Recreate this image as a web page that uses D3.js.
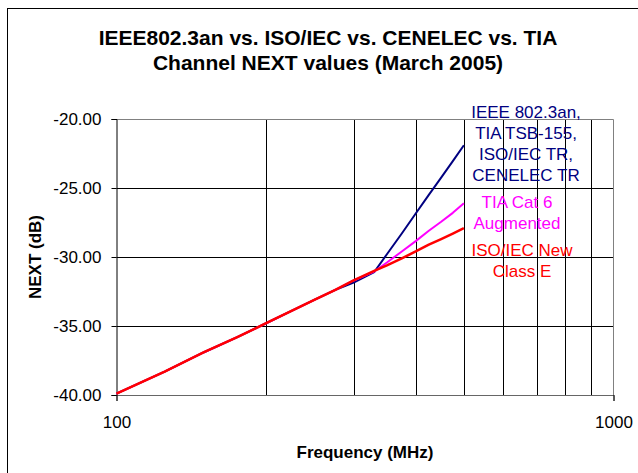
<!DOCTYPE html>
<html lang="en">
<head>
<meta charset="utf-8">
<title>Channel NEXT values</title>
<script src="https://d3js.org/d3.v7.min.js"></script>
<style>
	body {
		margin: 0;
		font-family: 'Liberation Sans', Arial, sans-serif;
		background: white;
	}
	.title {
		font-size: 21px;
		font-weight: bold;
	}
	.axislabel {
		font-size: 17px;
		font-weight: bold;
	}
	.tick text {
		font-family: 'Liberation Sans', Arial, sans-serif;
		font-size: 17px;
		fill: black;
	}
	.serieslabel {
		font-size: 17px;
	}
</style>
</head>
<body>
<div id="my_dataviz"></div>
<script>

// frequencies (MHz) the curves were read at
var freqs = [100, 125, 150, 175, 200, 225, 250, 275, 300, 330, 350, 375, 400, 425, 450, 475, 500];

// IEEE 802.3an / TIA TSB-155 / ISO/IEC TR / CENELEC TR
var ieeeValues = [-39.9, -38.3, -36.9, -35.8, -34.8, -33.9, -33.1, -32.4, -31.85, -31.1, -29.8, -28.3, -26.85, -25.5, -24.25, -23.05, -21.9];
// TIA Cat 6 Augmented
var tiaValues = [-39.9, -38.3, -36.9, -35.8, -34.8, -33.9, -33.1, -32.4, -31.7, -31.05, -30.4, -29.6, -28.85, -28.1, -27.45, -26.8, -26.1];
// ISO/IEC New Class E
var isoValues = [-39.9, -38.3, -36.9, -35.8, -34.8, -33.9, -33.1, -32.4, -31.7, -31.0, -30.6, -30.1, -29.6, -29.1, -28.7, -28.3, -27.9];

var yTicks = [-40, -35, -30, -25, -20];
var xGrid = [200, 300, 400, 500, 600, 700, 800, 900];
var xTicks = [100, 1000];

var titleLines = ["IEEE802.3an vs. ISO/IEC vs. CENELEC vs. TIA", "Channel NEXT values (March 2005)"];

var width = 638, height = 473;
var plot = {left: 116.5, right: 613.5, top: 119, bottom: 395};

var svg = d3.select("#my_dataviz")
  .append("svg")
    .attr("width", width)
    .attr("height", height);

// outer chart border (only top and left show in the frame)
svg.append("rect")
  .attr("x", 7.5)
  .attr("y", 8.5)
  .attr("width", 700)
  .attr("height", 600)
  .style("fill", "white")
  .style("stroke", "black")
  .style("stroke-width", 1);

var x = d3.scaleLog()
  .domain([100, 1000])
  .range([plot.left, plot.right]);

var y = d3.scaleLinear()
  .domain([-40, -20])
  .range([plot.bottom, plot.top]);

// gridlines
svg.append("g")
  .selectAll("line")
  .data(xGrid)
  .join("line")
    .attr("x1", function(d) { return Math.round(x(d)) + 0.5 })
    .attr("x2", function(d) { return Math.round(x(d)) + 0.5 })
    .attr("y1", plot.top)
    .attr("y2", plot.bottom)
    .style("stroke", "#000")
    .style("stroke-width", 1);

svg.append("g")
  .selectAll("line")
  .data([-35, -30, -25])
  .join("line")
    .attr("x1", plot.left)
    .attr("x2", plot.right)
    .attr("y1", function(d) { return Math.round(y(d)) + 0.5 })
    .attr("y2", function(d) { return Math.round(y(d)) + 0.5 })
    .style("stroke", "#000")
    .style("stroke-width", 1);

// plot area border top / right
svg.append("path")
  .attr("d", "M" + plot.left + "," + (plot.top + 0.5) + "H" + plot.right + "V" + plot.bottom)
  .style("fill", "none")
  .style("stroke", "#808080");

// Y axis
svg.append("g")
  .attr("transform", "translate(" + plot.left + ",0)")
  .call(d3.axisLeft(y).tickValues(yTicks).tickSize(5).tickPadding(10)
    .tickFormat(function(d) { return d.toFixed(2) }))
  .call(function(g) { g.selectAll("line, path").style("stroke", "#000") });

// X axis
svg.append("g")
  .attr("transform", "translate(0," + plot.bottom + ")")
  .call(d3.axisBottom(x).tickValues(xTicks).tickSize(6).tickPadding(15)
    .tickFormat(d3.format("d")))
  .call(function(g) {
    g.select(".domain").style("stroke", "#666");
    g.selectAll("line").style("stroke", "#000");
  });

// lines
var series = [
  {values: ieeeValues, colour: "#000080", w: 2},
  {values: tiaValues, colour: "#ff00ff", w: 2},
  {values: isoValues, colour: "#ff0000", w: 2.5}
];

var line = d3.line()
  .x(function(d) { return x(d[0]) })
  .y(function(d) { return y(d[1]) });

series.forEach(function(s) {
  svg.append("path")
    .datum(freqs.map(function(f, i) { return [f, s.values[i]] }))
    .attr("d", line)
    .style("fill", "none")
    .style("stroke", s.colour)
    .style("stroke-width", s.w)
    .style("stroke-linejoin", "round");
});

// series labels
var labels = [
  {lines: ["IEEE 802.3an,", "TIA TSB-155,", "ISO/IEC TR,", "CENELEC TR"], colour: "#000080", x: 526, y: 118},
  {lines: ["TIA Cat 6", "Augmented"], colour: "#ff00ff", x: 517, y: 207.5},
  {lines: ["ISO/IEC New", "Class E"], colour: "#ff0000", x: 522, y: 256}
];

labels.forEach(function(l) {
  svg.append("g")
    .selectAll("text")
    .data(l.lines)
    .join("text")
      .attr("class", "serieslabel")
      .attr("text-anchor", "middle")
      .attr("x", l.x)
      .attr("y", function(d, i) { return l.y + i * 21 })
      .style("fill", l.colour)
      .text(function(d) { return d });
});

// title
svg.selectAll(".title")
  .data(titleLines)
  .join("text")
    .attr("class", "title")
    .attr("text-anchor", "middle")
    .attr("x", 328)
    .attr("y", function(d, i) { return 45 + i * 25 })
    .text(function(d) { return d });

// axis labels
svg.append("text")
  .attr("class", "axislabel")
  .attr("text-anchor", "middle")
  .attr("x", 365)
  .attr("y", 458)
  .text("Frequency (MHz)");

svg.append("text")
  .attr("class", "axislabel")
  .attr("text-anchor", "middle")
  .attr("transform", "translate(41,257) rotate(-90)")
  .text("NEXT (dB)");

</script>
</body>
</html>
